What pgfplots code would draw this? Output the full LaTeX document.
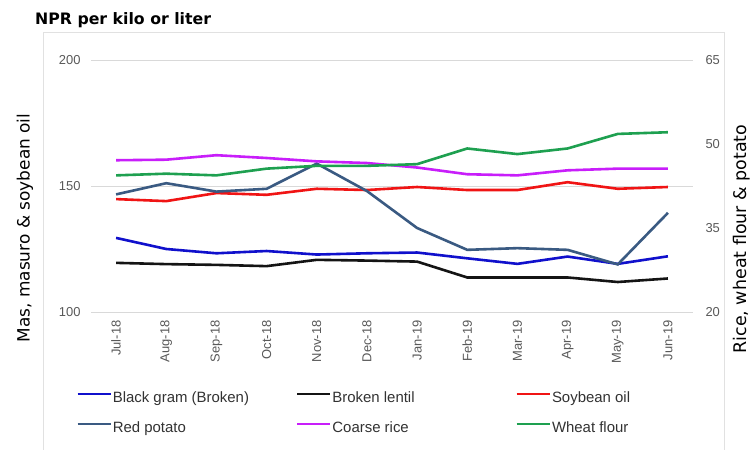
\documentclass[border=0pt]{standalone}
\usepackage{fontspec}
\setmainfont{Liberation Sans}
\newfontfamily\dejavu{DejaVu Sans}
\usepackage{pgfplots}
\usepackage{pgfplotstable}
\pgfplotsset{compat=1.18}

\definecolor{cblack}{RGB}{16,16,204}
\definecolor{clentil}{RGB}{20,20,20}
\definecolor{csoy}{RGB}{240,20,20}
\definecolor{cpotato}{RGB}{58,90,130}
\definecolor{crice}{RGB}{200,30,250}
\definecolor{cwheat}{RGB}{30,160,80}
\definecolor{tickgray}{RGB}{89,89,89}
\definecolor{legtext}{RGB}{50,50,50}
\definecolor{gridgray}{RGB}{217,217,217}
\definecolor{framegray}{RGB}{225,225,225}

% left axis: NPR, Mas / masuro / soybean oil
\pgfplotstableread{
idx black lentil soy
0  129.4 119.5 144.8
1  125.0 119.0 144.0
2  123.3 118.7 147.2
3  124.2 118.2 146.5
4  122.8 120.7 148.9
5  123.3 120.4 148.4
6  123.6 120.0 149.6
7  121.3 113.7 148.4
8  119.1 113.7 148.4
9  122.0 113.7 151.5
10 119.1 111.9 148.9
11 122.1 113.3 149.6
}\lefttab

% right axis: potato, rice, wheat flour
\pgfplotstableread{
idx potato rice wheat
0  41.0 47.1 44.4
1  43.0 47.2 44.7
2  41.5 48.0 44.4
3  42.0 47.5 45.6
4  46.5 46.9 46.1
5  41.6 46.6 46.1
6  35.0 45.8 46.4
7  31.1 44.6 49.2
8  31.4 44.4 48.2
9  31.1 45.3 49.2
10 28.5 45.6 51.8
11 37.7 45.6 52.1
}\righttab

\pgfplotsset{
  base/.style={
    scale only axis, width=602bp, height=252bp,
    at={(91bp,138bp)}, anchor=south west,
    xmin=-0.5, xmax=11.5,
    axis line style={draw=none},
    major tick length=0pt,
    tick label style={font=\fontsize{13}{15}\selectfont, text=tickgray},
    /pgf/number format/assume math mode=true,
    clip=false,
  },
  ser/.style={color=#1, line width=2.6bp, mark=none},
}

\begin{document}
\begin{tikzpicture}
\useasboundingbox (0,0) rectangle (750bp,450bp);
\fill[white] (0,0) rectangle (750bp,450bp);
\draw[framegray, line width=0.8bp] (43bp,-5bp) -- (43bp,418bp) -- (724bp,418bp) -- (724bp,-5bp);

\node[anchor=base west, inner sep=0pt, font=\dejavu\bfseries\fontsize{15.8}{18}\selectfont] at (35bp,425bp) {NPR per kilo or liter};
\node[rotate=90, font=\dejavu\fontsize{17}{20}\selectfont] at (25bp,222bp) {Mas, masuro \& soybean oil};
\node[rotate=90, font=\dejavu\fontsize{17.5}{20}\selectfont] at (742bp,211bp) {Rice, wheat flour \& potato};

\begin{axis}[base,
  ymin=100, ymax=200, ytick={100,150,200},
  ymajorgrids, grid style={draw=gridgray, line width=0.9bp},
  yticklabel style={xshift=-7bp},
  xtick={0,...,11},
  xticklabels={Jul-18,Aug-18,Sep-18,Oct-18,Nov-18,Dec-18,Jan-19,Feb-19,Mar-19,Apr-19,May-19,Jun-19},
  xticklabel style={yshift=-5bp, rotate=90, anchor=east},
  legend columns=3,
  legend style={draw=none, fill=none, at={(axis description cs:-0.0249,-0.3095)}, anchor=north west,
    inner sep=0pt, row sep=13bp,
    nodes={inner sep=1bp, text height=11bp, text depth=4bp, text=legtext, font=\fontsize{15}{17}\selectfont},
    /tikz/every even column/.append style={column sep=0bp}},
  legend image code/.code={\draw[#1, line width=2.6bp] (0bp,4.5bp) -- (33bp,4.5bp);},
]
\addplot[ser=cblack] table[x=idx, y=black] {\lefttab};
\addlegendentry{\makebox[182bp][l]{Black gram (Broken)}}
\addplot[ser=clentil] table[x=idx, y=lentil] {\lefttab};
\addlegendentry{\makebox[182bp][l]{Broken lentil}}
\addplot[ser=csoy] table[x=idx, y=soy] {\lefttab};
\addlegendentry{\makebox[182bp][l]{Soybean oil}}
\addlegendimage{ser=cpotato}
\addlegendentry{\makebox[182bp][l]{Red potato}}
\addlegendimage{ser=crice}
\addlegendentry{\makebox[182bp][l]{Coarse rice}}
\addlegendimage{ser=cwheat}
\addlegendentry{\makebox[182bp][l]{Wheat flour}}
\end{axis}

\begin{axis}[base,
  ymin=20, ymax=65, ytick={20,35,50,65},
  yticklabel pos=right,
  yticklabel style={xshift=9bp},
  hide x axis,
]
\addplot[ser=cpotato] table[x=idx, y=potato] {\righttab};
\addplot[ser=crice] table[x=idx, y=rice] {\righttab};
\addplot[ser=cwheat] table[x=idx, y=wheat] {\righttab};
\end{axis}
\end{tikzpicture}
\end{document}
